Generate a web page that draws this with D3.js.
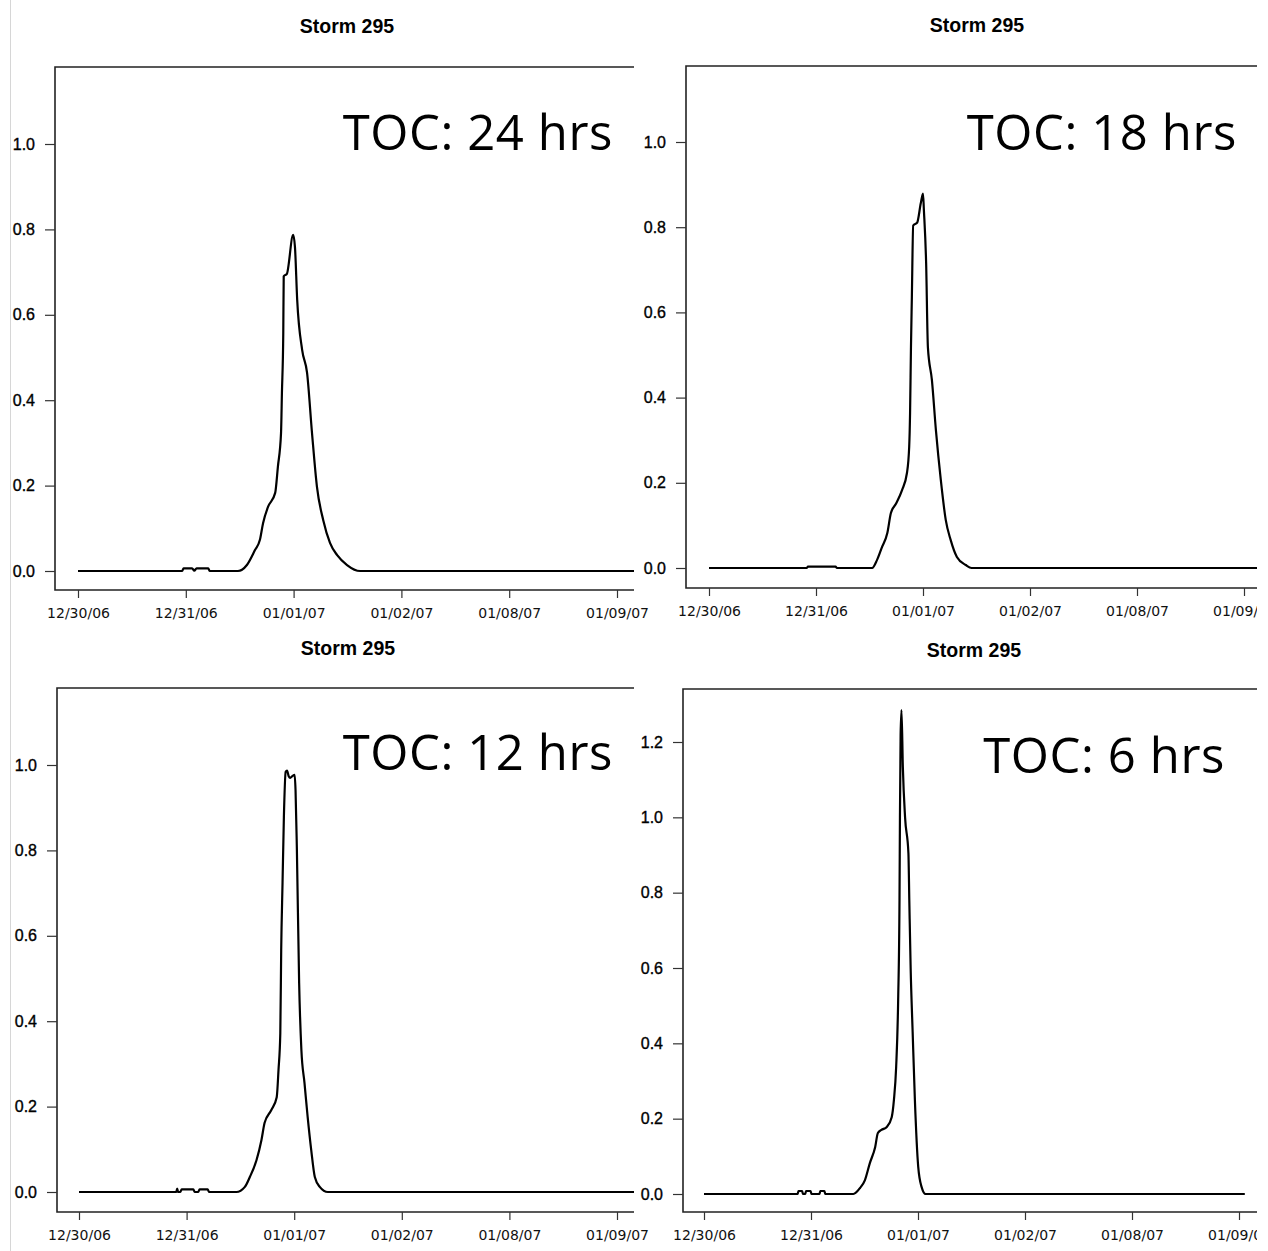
<!DOCTYPE html>
<html>
<head>
<meta charset="utf-8">
<script src="https://cdn.jsdelivr.net/npm/d3@7"></script>
<style>
  body { margin: 0; background: #fff; }
  svg { display: block; }
</style>
</head>
<body>
<div id="chart"></div>
<script>
// x axis: observation index, labelled with dates
const tickSteps = [0, 24, 48, 72, 96, 120];
const tickDates = ["12/30/06", "12/31/06", "01/01/07", "01/02/07", "01/08/07", "01/09/07"];
const yTicksLow = [0, 0.2, 0.4, 0.6, 0.8, 1.0];
const yTicksHigh = [0, 0.2, 0.4, 0.6, 0.8, 1.0, 1.2];

const stormTitle = "Storm 295";
const tocLabels = ["TOC: 24 hrs", "TOC: 18 hrs", "TOC: 12 hrs", "TOC: 6 hrs"];

// hydrographs (index, flow)
const step24 = [0, 23.2, 23.5, 25.4, 25.9, 26.4, 29.0, 29.3, 35.6, 37.6, 39.4, 40.5, 41.2, 42.3, 43.9, 44.5, 45.2, 45.4, 45.7, 45.8, 46.5, 47.9, 48.3, 48.8, 49.9, 51.0, 52.1, 53.2, 54.6, 56.1, 57.7, 59.9, 62.8, 128];
const flow24 = [0, 0, 0.006, 0.006, 0.001, 0.006, 0.006, 0, 0, 0.014, 0.049, 0.073, 0.112, 0.150, 0.183, 0.244, 0.323, 0.417, 0.557, 0.690, 0.696, 0.787, 0.759, 0.635, 0.518, 0.464, 0.323, 0.197, 0.119, 0.066, 0.037, 0.014, 0, 0];

const step18 = [0, 21.9, 22.2, 28.4, 28.7, 36.6, 37.7, 38.8, 40.0, 40.8, 42.0, 43.3, 44.4, 44.9, 45.1, 45.3, 45.5, 45.8, 46.7, 47.5, 48.0, 48.2, 48.7, 49.1, 50.0, 50.9, 52.0, 53.1, 54.2, 55.6, 57.6, 58.9, 128];
const flow18 = [0, 0, 0.003, 0.003, 0, 0, 0.019, 0.049, 0.082, 0.129, 0.152, 0.183, 0.223, 0.284, 0.364, 0.518, 0.635, 0.804, 0.811, 0.856, 0.879, 0.840, 0.717, 0.518, 0.441, 0.323, 0.206, 0.113, 0.066, 0.026, 0.007, 0, 0];

const step12 = [0, 21.7, 21.9, 22.1, 22.6, 22.9, 25.5, 25.8, 26.6, 26.9, 28.7, 29.0, 35.1, 37.0, 38.1, 39.6, 40.7, 41.4, 42.9, 44.1, 44.5, 44.9, 45.1, 45.4, 45.7, 46.1, 46.4, 46.8, 47.1, 47.6, 48.1, 48.3, 48.6, 49.1, 49.6, 50.3, 51.0, 51.8, 52.6, 53.7, 55.5, 128];
const flow12 = [0, 0, 0.008, 0, 0, 0.006, 0.006, 0, 0, 0.006, 0.006, 0, 0, 0.012, 0.035, 0.075, 0.122, 0.162, 0.192, 0.222, 0.286, 0.372, 0.567, 0.724, 0.878, 0.984, 0.987, 0.973, 0.970, 0.974, 0.977, 0.941, 0.801, 0.490, 0.333, 0.255, 0.176, 0.098, 0.035, 0.012, 0, 0];

const step6 = [0, 21.0, 21.2, 22.0, 22.2, 22.7, 22.9, 23.9, 24.1, 25.9, 26.1, 27.0, 27.2, 33.5, 35.0, 36.1, 37.2, 38.4, 39.0, 39.8, 41.0, 42.1, 42.6, 43.1, 43.55, 43.85, 43.95, 44.1, 44.3, 44.6, 45.1, 45.85, 46.05, 46.35, 46.8, 47.3, 48.05, 48.8, 49.7, 121.3];
const flow6 = [0, 0, 0.008, 0.008, 0, 0, 0.008, 0.008, 0, 0, 0.008, 0.008, 0, 0, 0.016, 0.037, 0.082, 0.125, 0.162, 0.170, 0.178, 0.204, 0.250, 0.337, 0.515, 0.780, 1.000, 1.220, 1.285, 1.134, 1.000, 0.905, 0.780, 0.600, 0.430, 0.250, 0.072, 0.019, 0, 0];

// where each cropped panel sits on the page
const panels = [
  { steps: step24, flow: flow24, toc: tocLabels[0], yTicks: yTicksLow, yMax: 1.0,
    xr: [78, 617], yr: [571, 144], left: 55, top: 67, bottom: 590, clipR: 634, labelR: 660,
    titleX: 347, titleY: 33, tocX: 613, tocY: 150 },
  { steps: step18, flow: flow18, toc: tocLabels[1], yTicks: yTicksLow, yMax: 1.0,
    xr: [709, 1244], yr: [568, 142], left: 686, top: 66, bottom: 588, clipR: 1257, labelR: 1257,
    titleX: 977, titleY: 32, tocX: 1237, tocY: 150 },
  { steps: step12, flow: flow12, toc: tocLabels[2], yTicks: yTicksLow, yMax: 1.0,
    xr: [79, 617], yr: [1192, 765], left: 57, top: 688, bottom: 1212, clipR: 634, labelR: 660,
    titleX: 348, titleY: 655, tocX: 613, tocY: 770 },
  { steps: step6, flow: flow6, toc: tocLabels[3], yTicks: yTicksHigh, yMax: 1.2,
    xr: [704, 1239], yr: [1194, 742], left: 683, top: 689, bottom: 1212, clipR: 1257, labelR: 1257,
    titleX: 974, titleY: 657, tocX: 1225, tocY: 773 }
];

const width = 1268;
const height = 1251;

const svg = d3
  .select("#chart")
  .append("svg")
  .attr("width", width)
  .attr("height", height);

svg.append("rect").attr("width", width).attr("height", height).attr("fill", "#fff");

// faint page edge on the left
svg
  .append("line")
  .attr("x1", 10.5)
  .attr("x2", 10.5)
  .attr("y1", 0)
  .attr("y2", height)
  .attr("stroke", "#d6d6d6")
  .attr("stroke-width", 1);

const defs = svg.append("defs");

panels.forEach((p, i) => {
  const x = d3.scaleLinear().domain([0, 120]).range(p.xr);
  const y = d3.scaleLinear().domain([0, p.yMax]).range(p.yr);

  defs
    .append("clipPath")
    .attr("id", "lineclip" + i)
    .append("rect")
    .attr("x", p.left - 2)
    .attr("y", p.top - 2)
    .attr("width", p.clipR - p.left + 2)
    .attr("height", p.bottom - p.top + 4);

  defs
    .append("clipPath")
    .attr("id", "labelclip" + i)
    .append("rect")
    .attr("x", p.left - 40)
    .attr("y", p.bottom)
    .attr("width", p.labelR - p.left + 40)
    .attr("height", 40);

  const g = svg.append("g");

  // title
  g.append("text")
    .attr("x", p.titleX)
    .attr("y", p.titleY)
    .attr("text-anchor", "middle")
    .attr("font-family", "Liberation Sans, Arial, sans-serif")
    .attr("font-weight", "bold")
    .attr("font-size", 19.5)
    .attr("fill", "#000")
    .text(stormTitle);

  // box (left, top, bottom) and the hydrograph, cut at the crop edge
  const plot = g.append("g").attr("clip-path", "url(#lineclip" + i + ")");

  plot
    .append("path")
    .attr("d", `M${p.clipR + 5},${p.top} H${p.left} V${p.bottom} H${p.clipR + 5}`)
    .attr("fill", "none")
    .attr("stroke", "#222")
    .attr("stroke-width", 1.6);

  const line = d3
    .line()
    .curve(d3.curveMonotoneX)
    .x((d) => x(d[0]))
    .y((d) => y(d[1]));

  plot
    .append("path")
    .datum(d3.zip(p.steps, p.flow))
    .attr("d", line)
    .attr("fill", "none")
    .attr("stroke", "#000")
    .attr("stroke-width", 2.2)
    .attr("stroke-linejoin", "round");

  // y axis
  const yAxis = g
    .append("g")
    .attr("transform", `translate(${p.left},0)`)
    .call(
      d3.axisLeft(y)
        .tickValues(p.yTicks)
        .tickFormat(d3.format(".1f"))
        .tickSize(10)
        .tickPadding(10)
    );
  yAxis.select(".domain").remove();
  yAxis.selectAll("line").attr("stroke", "#333").attr("stroke-width", 1.2);
  yAxis
    .selectAll("text")
    .attr("font-family", "Liberation Sans, Arial, sans-serif")
    .attr("font-size", 16)
    .attr("fill", "#000")
    .attr("stroke", "#000")
    .attr("stroke-width", 0.35);

  // x axis
  const xAxis = g
    .append("g")
    .attr("clip-path", "url(#labelclip" + i + ")")
    .append("g")
    .attr("transform", `translate(0,${p.bottom})`)
    .call(
      d3.axisBottom(x)
        .tickValues(tickSteps)
        .tickFormat((d, k) => tickDates[k])
        .tickSize(8)
        .tickPadding(10)
    );
  xAxis.select(".domain").remove();
  xAxis.selectAll("line").attr("stroke", "#333").attr("stroke-width", 1.2);
  xAxis
    .selectAll("text")
    .attr("font-family", "DejaVu Sans, sans-serif")
    .attr("font-size", 14)
    .attr("fill", "#111");

  // TOC annotation
  g.append("text")
    .attr("x", p.tocX)
    .attr("y", p.tocY)
    .attr("text-anchor", "end")
    .attr("font-family", "Open Sans, Noto Sans, sans-serif")
    .attr("font-size", 49)
    .attr("letter-spacing", 0.6)
    .attr("fill", "#000")
    .text(p.toc);
});
</script>
</body>
</html>
